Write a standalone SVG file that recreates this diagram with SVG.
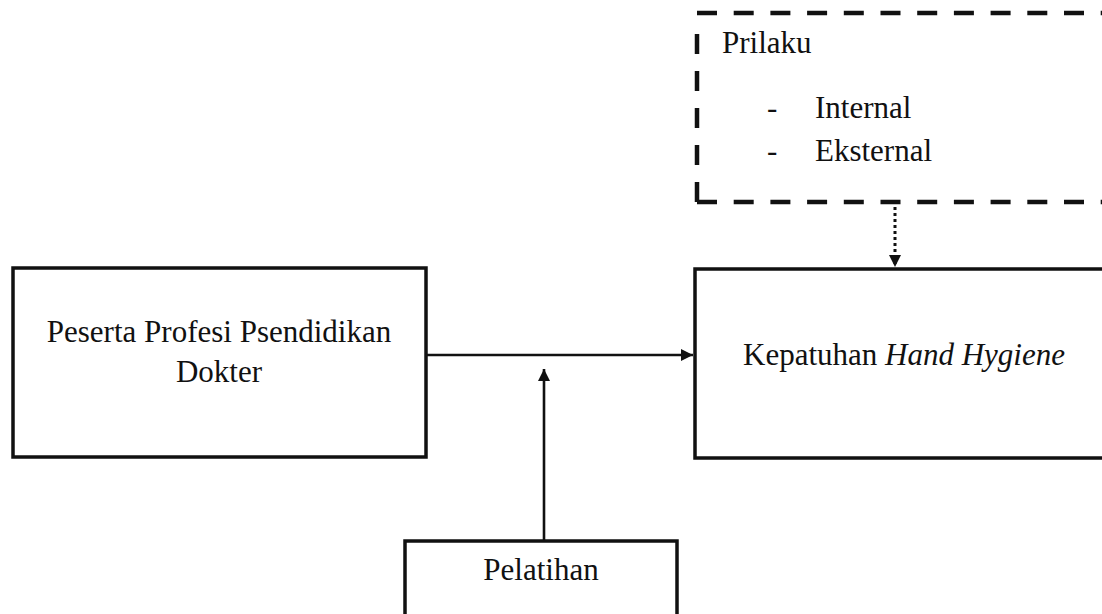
<svg xmlns="http://www.w3.org/2000/svg" width="1102" height="614" viewBox="0 0 1102 614">
<defs>
<style>
.box{fill:#fff;stroke:#111;stroke-width:3.5}
.dash{fill:none;stroke:#111;stroke-width:4.5;stroke-dasharray:20 16.7}
.t{font-family:"Liberation Serif","Times New Roman",serif;font-size:31px;fill:#111}
.line{stroke:#111;stroke-width:2.6;fill:none}
.dot{stroke:#111;stroke-width:3;stroke-dasharray:3 3;fill:none}
</style>
<marker id="ah" viewBox="0 0 10 10" refX="10" refY="5" markerWidth="14" markerHeight="12" markerUnits="userSpaceOnUse" orient="auto">
<path d="M0,0 L10,5 L0,10 z" fill="#111"/>
</marker>
</defs>
<rect width="1102" height="614" fill="#fff"/>
<g id="prilaku">
<path class="dash" d="M697,13 L1110,13"/>
<path class="dash" d="M697,202 L1110,202"/>
<path class="dash" style="stroke-dasharray:20 17" d="M697,202 L697,33"/>
<text class="t" x="722" y="53">Prilaku</text>
<text class="t" x="767" y="118">-</text>
<text class="t" x="815" y="118">Internal</text>
<text class="t" x="767" y="161">-</text>
<text class="t" x="815" y="161">Eksternal</text>
</g>
<g id="peserta">
<rect class="box" x="13" y="268" width="413" height="189"/>
<text class="t" x="219" y="342" text-anchor="middle">Peserta Profesi Psendidikan</text>
<text class="t" x="219" y="382" text-anchor="middle">Dokter</text>
</g>
<g id="kepatuhan">
<rect class="box" x="695" y="269" width="420" height="189"/>
<text class="t" x="743" y="365">Kepatuhan <tspan font-style="italic">Hand Hygiene</tspan></text>
</g>
<g id="pelatihan">
<rect class="box" x="405" y="541" width="272" height="100"/>
<text class="t" x="541" y="580" text-anchor="middle">Pelatihan</text>
</g>
<g id="connectors">
<line class="line" x1="427" y1="355" x2="693" y2="355" marker-end="url(#ah)"/>
<line class="line" x1="544" y1="540" x2="544" y2="369" marker-end="url(#ah)"/>
<line class="dot" x1="895" y1="207" x2="895" y2="267" marker-end="url(#ah)"/>
</g>
</svg>
